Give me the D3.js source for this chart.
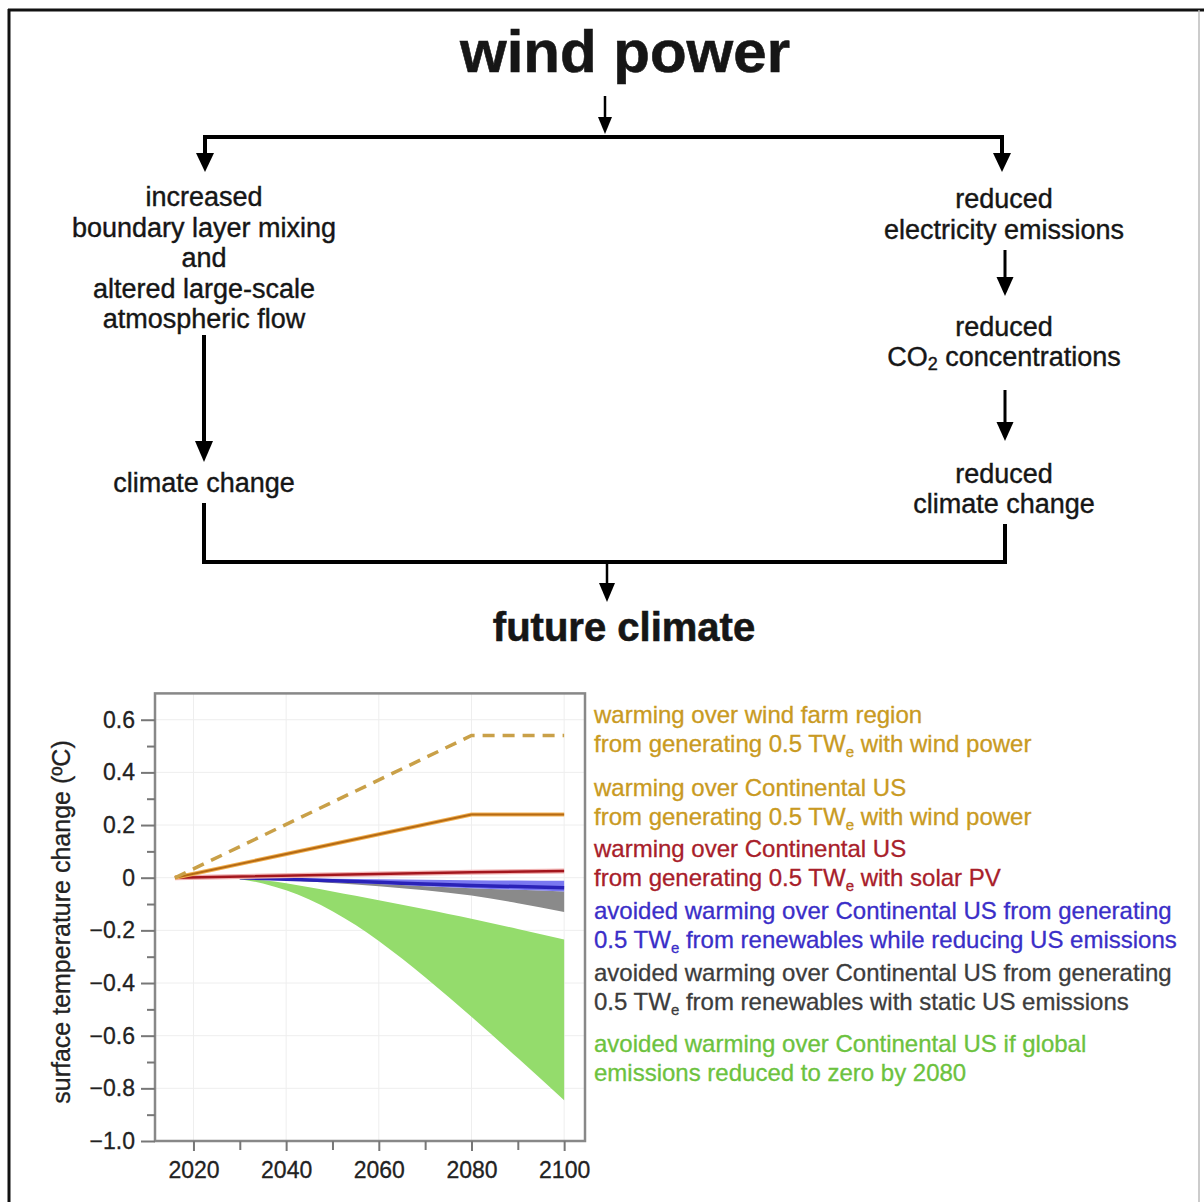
<!DOCTYPE html>
<html><head><meta charset="utf-8">
<script src="https://cdn.jsdelivr.net/npm/d3@7"></script>
<style>
body{margin:0;background:#fff}
svg{display:block}
text{font-family:"Liberation Sans",Arial,Helvetica,sans-serif}
</style>
</head><body>
<svg id="c" width="1204" height="1202"></svg>
<script>
// ---------- data ----------
const windYears = [2016, 2080, 2100];
const windFarmRegion = [0, 0.54, 0.54];
const windContinentalUS = [0, 0.24, 0.24];
const solarYears = [2016, 2080, 2100];
const solarContinentalUS = [0, 0.021, 0.025];

const bandYears = [2030, 2040, 2050, 2060, 2070, 2080, 2090, 2100];
const blueUpper = [0, -0.002, -0.004, -0.006, -0.008, -0.010, -0.011, -0.012];
const blueLower = [0, -0.008, -0.016, -0.024, -0.032, -0.040, -0.046, -0.052];
const grayLower = [0, -0.010, -0.020, -0.032, -0.048, -0.068, -0.097, -0.130];

const greenYears = [2028, 2035, 2040, 2045, 2050, 2055, 2060, 2065, 2070, 2075, 2080, 2090, 2100];
const greenUpper = [0, -0.010, -0.021, -0.036, -0.052, -0.069, -0.086, -0.103, -0.120, -0.138, -0.156, -0.195, -0.235];
const greenLower = [0, -0.022, -0.048, -0.083, -0.127, -0.180, -0.240, -0.307, -0.378, -0.452, -0.528, -0.685, -0.845];

const yMajorTicks = [-1.0, -0.8, -0.6, -0.4, -0.2, 0, 0.2, 0.4, 0.6];
const yTickLabels = ["\u22121.0", "\u22120.8", "\u22120.6", "\u22120.4", "\u22120.2", "0", "0.2", "0.4", "0.6"];
const yMinorTicks = [-0.9, -0.7, -0.5, -0.3, -0.1, 0.1, 0.3, 0.5];
const xMajorTicks = [2020, 2040, 2060, 2080, 2100];
const xMinorTicks = [2030, 2050, 2070, 2090];

const legendGroups = [
  ["warming over wind farm region", "from generating 0.5 TW_e with wind power"],
  ["warming over Continental US", "from generating 0.5 TW_e with wind power"],
  ["warming over Continental US", "from generating 0.5 TW_e with solar PV"],
  ["avoided warming over Continental US from generating", "0.5 TW_e from renewables while reducing US emissions"],
  ["avoided warming over Continental US from generating", "0.5 TW_e from renewables with static US emissions"],
  ["avoided warming over Continental US if global", "emissions reduced to zero by 2080"]
];
const yAxisTitle = "surface temperature change (\u00BAC)";

// ---------- styles / layout ----------
const legendColors = ["#c99a22", "#c99a22", "#a8202a", "#3a2ec8", "#3c3c3c", "#6cc23e"];
const legendTop = [714, 787, 848, 910, 972, 1043];
const FONT = '"Liberation Sans",Arial,Helvetica,sans-serif';

const svg = d3.select("#c");
svg.append("rect").attr("width", 1204).attr("height", 1202).attr("fill", "#fff");

// outer frame
svg.append("line").attr("x1", 8).attr("x2", 1204).attr("y1", 10).attr("y2", 10).attr("stroke", "#111").attr("stroke-width", 3);
svg.append("line").attr("x1", 9).attr("x2", 9).attr("y1", 9).attr("y2", 1202).attr("stroke", "#111").attr("stroke-width", 3);
svg.append("line").attr("x1", 1199).attr("x2", 1199).attr("y1", 10).attr("y2", 1202).attr("stroke", "#bbb").attr("stroke-width", 1.5);

// ---------- flowchart ----------
const fc = svg.append("g");
function arrow(x, y1, tip, sw, hw, hl) {
  fc.append("line").attr("x1", x).attr("x2", x).attr("y1", y1).attr("y2", tip - hl + 2)
    .attr("stroke", "#000").attr("stroke-width", sw);
  fc.append("path").attr("d", `M${x - hw / 2},${tip - hl} L${x + hw / 2},${tip - hl} L${x},${tip} Z`).attr("fill", "#000");
}
function txt(x, y, s, size, weight) {
  return fc.append("text").attr("x", x).attr("y", y).attr("text-anchor", "middle")
    .attr("font-size", size).attr("font-weight", weight || "normal").attr("fill", "#161616")
    .attr("stroke", "#161616").attr("stroke-width", weight ? 0.6 : 0.4).text(s);
}
txt(625, 72, "wind power", 60, "bold");
arrow(605, 96, 134, 2.5, 14, 17);
fc.append("line").attr("x1", 203).attr("x2", 1004).attr("y1", 137).attr("y2", 137).attr("stroke", "#000").attr("stroke-width", 4);
arrow(205, 135, 172, 4, 18, 19);
arrow(1002, 135, 172, 4, 18, 19);

["increased", "boundary layer mixing", "and", "altered large-scale", "atmospheric flow"]
  .forEach((s, i) => txt(204, 206 + i * 30.6, s, 27));
arrow(204, 335, 462, 4, 18, 21);
txt(204, 492, "climate change", 27);

txt(1004, 208, "reduced", 27);
txt(1004, 239, "electricity emissions", 27);
arrow(1005, 250, 296, 3, 17, 19);
txt(1004, 336, "reduced", 27);
const co2 = txt(1004, 366, "", 27);
co2.append("tspan").text("CO");
co2.append("tspan").attr("font-size", 18).attr("dy", 4).text("2");
co2.append("tspan").attr("dy", -4).text(" concentrations");
arrow(1005, 390, 441, 3, 17, 19);
txt(1004, 483, "reduced", 27);
txt(1004, 513, "climate change", 27);

fc.append("path").attr("d", "M204,503 V562 H1005 V524").attr("fill", "none").attr("stroke", "#000").attr("stroke-width", 4);
arrow(607, 562, 602, 2.5, 16, 19);
txt(624, 641, "future climate", 40, "bold");

// ---------- chart ----------
const x = d3.scaleLinear().domain([2011.7, 2104.5]).range([155, 585]);
const y = d3.scaleLinear().domain([-1.0, 0.7]).range([1141, 693.4]);
const ch = svg.append("g");

// faint grid
ch.selectAll(".gx").data(xMajorTicks).join("line")
  .attr("x1", d => x(d)).attr("x2", d => x(d)).attr("y1", y(0.7)).attr("y2", y(-1.0))
  .attr("stroke", "#eeeeee").attr("stroke-width", 1);
ch.selectAll(".gy").data(yMajorTicks).join("line")
  .attr("x1", x.range()[0]).attr("x2", x.range()[1]).attr("y1", d => y(d)).attr("y2", d => y(d))
  .attr("stroke", "#eeeeee").attr("stroke-width", 1);

// bands
const area = (ys, lo, hi) => d3.area()
  .x((d, i) => x(ys[i])).y0((d, i) => y(lo[i])).y1((d, i) => y(hi[i]))
  .curve(d3.curveMonotoneX)(ys);
ch.append("path").attr("d", area(greenYears, greenLower, greenUpper)).attr("fill", "#94dc6c");
ch.append("path").attr("d", area(bandYears, grayLower, blueLower)).attr("fill", "#8a8a8a");
ch.append("path").attr("d", area(bandYears, blueLower, blueUpper)).attr("fill", "#7a78f0");
const lineGen = (ys, vs) => d3.line().x((d, i) => x(ys[i])).y((d, i) => y(vs[i])).curve(d3.curveMonotoneX)(ys);
const blueMid = blueLower.map((v, i) => (v * 0.65 + blueUpper[i] * 0.35));
ch.append("path").attr("d", lineGen(bandYears, blueMid)).attr("fill", "none").attr("stroke", "#2a22b8").attr("stroke-width", 3.5);

// lines
const lin = (ys, vs) => d3.line().x((d, i) => x(ys[i])).y((d, i) => y(vs[i]))(ys);
ch.append("path").attr("d", lin(solarYears, solarContinentalUS)).attr("fill", "none").attr("stroke", "#f0b0b0").attr("stroke-width", 5);
ch.append("path").attr("d", lin(solarYears, solarContinentalUS)).attr("fill", "none").attr("stroke", "#a3161d").attr("stroke-width", 2.5);
ch.append("path").attr("d", lin(windYears, windContinentalUS)).attr("fill", "none").attr("stroke", "#f2b050").attr("stroke-width", 4);
ch.append("path").attr("d", lin(windYears, windContinentalUS)).attr("fill", "none").attr("stroke", "#b56a14").attr("stroke-width", 2);
ch.append("path").attr("d", lin(windYears, windFarmRegion)).attr("fill", "none").attr("stroke", "#c9a048").attr("stroke-width", 3.5).attr("stroke-dasharray", "12,8");

// frame
ch.append("rect").attr("x", 155).attr("y", y(0.7)).attr("width", 585 - 155).attr("height", y(-1.0) - y(0.7))
  .attr("fill", "none").attr("stroke", "#888").attr("stroke-width", 2.5);

// axes
const styleAxis = g => { g.select(".domain").remove(); g.selectAll("line").attr("stroke", "#777").attr("stroke-width", 2); };
const yAx = ch.append("g").attr("transform", "translate(155,0)")
  .call(d3.axisLeft(y).tickValues(yMajorTicks).tickSize(14).tickPadding(6).tickFormat((d, i) => yTickLabels[i]));
yAx.call(styleAxis);
yAx.selectAll("text").attr("font-size", 23).attr("fill", "#222").attr("font-family", FONT)
  .attr("stroke", "#222").attr("stroke-width", 0.3);
ch.append("g").attr("transform", "translate(155,0)")
  .call(d3.axisLeft(y).tickValues(yMinorTicks).tickSize(8).tickFormat("")).call(styleAxis);
const xAx = ch.append("g").attr("transform", `translate(0,${y(-1.0)})`)
  .call(d3.axisBottom(x).tickValues(xMajorTicks).tickSize(10).tickPadding(11).tickFormat(d3.format("d")));
xAx.call(styleAxis);
xAx.selectAll("text").attr("font-size", 23).attr("fill", "#222").attr("font-family", FONT)
  .attr("stroke", "#222").attr("stroke-width", 0.3);
ch.append("g").attr("transform", `translate(0,${y(-1.0)})`)
  .call(d3.axisBottom(x).tickValues(xMinorTicks).tickSize(9).tickFormat("")).call(styleAxis);

ch.append("text").attr("transform", "translate(70,922) rotate(-90)").attr("text-anchor", "middle")
  .attr("font-size", 25).attr("fill", "#222").attr("stroke", "#222").attr("stroke-width", 0.3).text(yAxisTitle);

// legend
legendGroups.forEach((lines, gi) => {
  lines.forEach((s, li) => {
    const t = ch.append("text").attr("x", 594).attr("y", legendTop[gi] + li * 29.5 + 8.5)
      .attr("font-size", 24).attr("fill", legendColors[gi])
      .attr("stroke", legendColors[gi]).attr("stroke-width", 0.3);
    const parts = s.split("TW_e");
    if (parts.length === 1) { t.text(s); return; }
    t.append("tspan").text(parts[0] + "TW");
    t.append("tspan").attr("font-size", 15).attr("dy", 5).text("e");
    t.append("tspan").attr("dy", -5).text(parts[1]);
  });
});
</script>
</body></html>
